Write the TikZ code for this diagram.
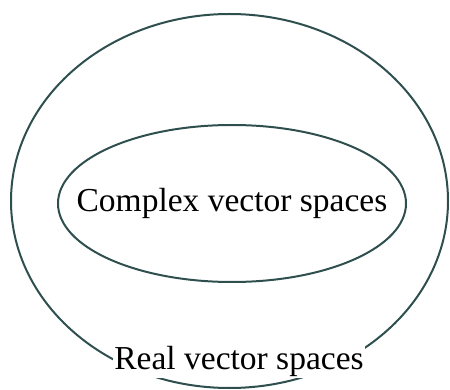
\documentclass[tikz,border=0pt]{standalone}
\usepackage{fontspec}
\setmainfont{Liberation Serif}
\usepackage{xcolor}
\usetikzlibrary{shapes.geometric}
\definecolor{setline}{HTML}{2F4F4F}
\tikzset{
  setshape/.style={draw=setline, ellipse, line width=2pt, inner sep=0pt},
  setlabel/.style={font=\fontsize{33.5}{40}\selectfont, inner sep=1.5pt},
}
\begin{document}
\begin{tikzpicture}[x=1pt,y=-1pt]
  \useasboundingbox (0,0) rectangle (450,390);
  \node[setshape, minimum width=437pt, minimum height=374pt] (real) at (229.5,201) {};
  \node[setshape, minimum width=348pt, minimum height=157pt] (complex) at (232,203.5) {};
  \node[setlabel] (complexlbl) at (complex.center) {Complex vector spaces};
  \node[setlabel, fill=white, anchor=base] (reallbl) at (239,369) {Real vector spaces};
\end{tikzpicture}
\end{document}
